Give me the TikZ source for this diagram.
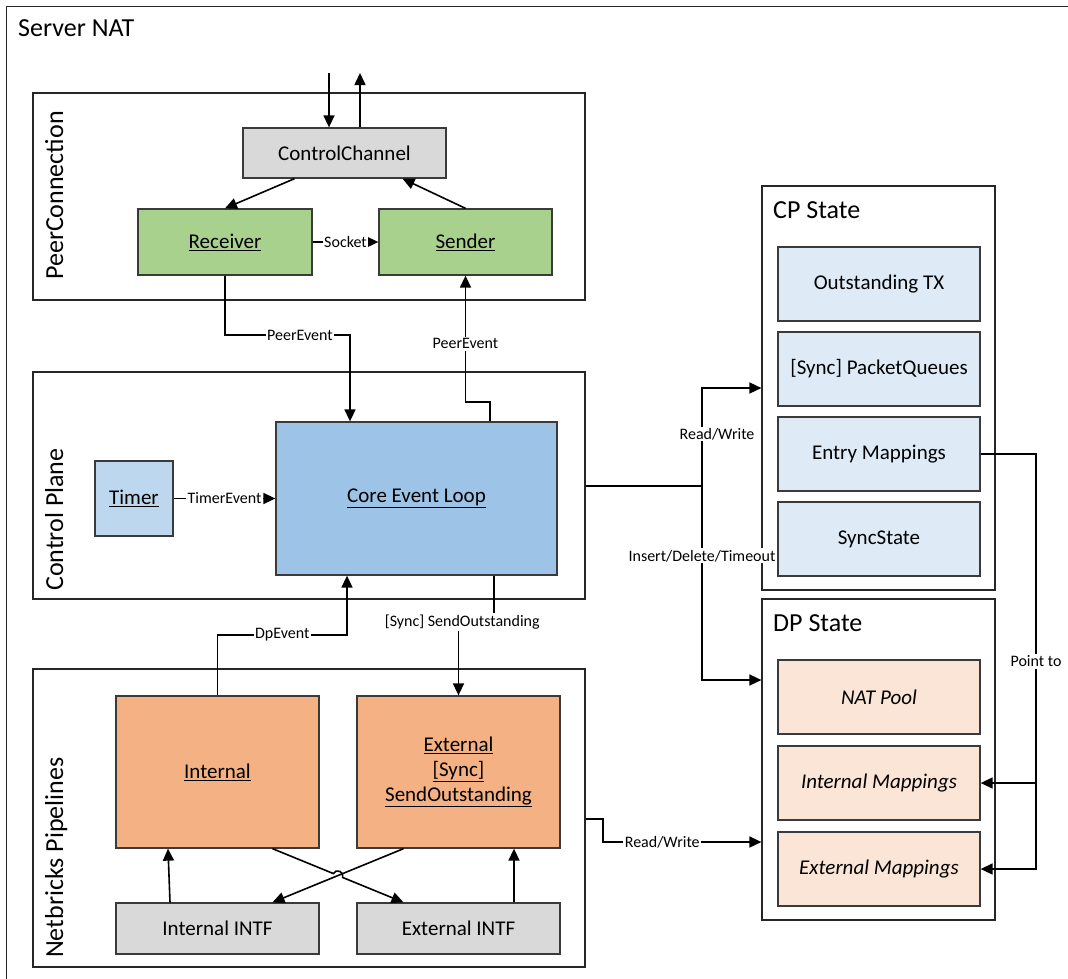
\documentclass[tikz,border=0pt]{standalone}
\usepackage{fontspec}
\setmainfont{Carlito}
\usetikzlibrary{arrows.meta}
\definecolor{graybox}{HTML}{D9D9D9}
\definecolor{greenbox}{HTML}{A9D18E}
\definecolor{timerbox}{HTML}{BDD7EE}
\definecolor{corebox}{HTML}{9DC3E6}
\definecolor{cpbox}{HTML}{DEEBF7}
\definecolor{orangebox}{HTML}{F4B183}
\definecolor{dpbox}{HTML}{FBE5D6}
\definecolor{edgecol}{HTML}{3A3A3A}
\tikzset{
  cont/.style={draw=black!85, line width=1.2pt, inner sep=0},
  box/.style={draw=edgecol, line width=1.3pt, inner sep=0, align=center, font=\fontsize{21}{25}\selectfont},
  ttl/.style={font=\fontsize{26}{30}\selectfont, inner sep=0},
  lbl/.style={fill=white, inner sep=1.5pt, font=\fontsize{16}{19}\selectfont},
  conn/.style={line width=1.6pt, draw=black},
  arr/.style={conn, -{Triangle[length=12pt,width=11pt]}}
}
\begin{document}
\begin{tikzpicture}[x=1pt,y=-1pt]
\useasboundingbox (0,0) rectangle (1068,978);
\clip (0,0) rectangle (1068,978);
% outer
\node[cont, minimum width=1080, minimum height=990, anchor=north west] (srv) at (6,6) {};
\node[ttl, anchor=base west] (srvt) at (18,36) {Server NAT};
% containers
\node[cont, minimum width=552, minimum height=207] (pcon) at (309,196.5) {};
\node[cont, minimum width=552, minimum height=227] (cplane) at (309,485.5) {};
\node[cont, minimum width=552, minimum height=298] (nbp) at (309,818) {};
\node[cont, minimum width=233, minimum height=404] (cpst) at (878.5,388) {};
\node[cont, minimum width=233, minimum height=321] (dpst) at (878.5,759.5) {};
\node[ttl, rotate=90, anchor=base west] (pcont) at (63,280) {PeerConnection};
\node[ttl, rotate=90, anchor=base west] (cplt) at (63,591) {Control Plane};
\node[ttl, rotate=90, anchor=base west] (nbpt) at (63,958) {Netbricks Pipelines};
\node[ttl, anchor=base west] (cpstt) at (773,218) {CP State};
\node[ttl, anchor=base west] (dpstt) at (773,631) {DP State};
% peer connection
\node[box, fill=graybox, minimum width=203, minimum height=50] (cc) at (344.5,153) {ControlChannel};
\node[box, fill=greenbox, minimum width=174, minimum height=66] (rec) at (225,242) {\underline{Receiver}};
\node[box, fill=greenbox, minimum width=173, minimum height=66] (snd) at (465.5,242) {\underline{Sender}};
% control plane
\node[box, fill=timerbox, minimum width=78, minimum height=75] (tmr) at (134,498.5) {\underline{Timer}};
\node[box, fill=corebox, minimum width=281, minimum height=153] (core) at (416.5,498.5) {\underline{Core Event Loop}};
% netbricks
\node[box, fill=orangebox, minimum width=203, minimum height=152] (intl) at (217.5,772) {\underline{Internal}};
\node[box, fill=orangebox, minimum width=203, minimum height=152] (ext) at (458.5,772) {\underline{External}\\\underline{[Sync]}\\\underline{SendOutstanding}};
\node[box, fill=graybox, minimum width=203, minimum height=51] (intintf) at (217.5,928.5) {Internal INTF};
\node[box, fill=graybox, minimum width=203, minimum height=51] (extintf) at (458.5,928.5) {External INTF};
% CP state
\node[box, fill=cpbox, minimum width=202, minimum height=74] (otx) at (879,284) {Outstanding TX};
\node[box, fill=cpbox, minimum width=202, minimum height=74] (pq) at (879,369) {[Sync] PacketQueues};
\node[box, fill=cpbox, minimum width=202, minimum height=74] (entry) at (879,454) {Entry Mappings};
\node[box, fill=cpbox, minimum width=202, minimum height=74] (sync) at (879,539) {SyncState};
% DP state
\node[box, fill=dpbox, minimum width=202, minimum height=74] (pool) at (879,697) {\itshape NAT Pool};
\node[box, fill=dpbox, minimum width=202, minimum height=74] (im) at (879,783) {\itshape Internal Mappings};
\node[box, fill=dpbox, minimum width=202, minimum height=74] (em) at (879,869) {\itshape External Mappings};
% connectors: peer connection
\coordinate (inA) at (329,73);
\coordinate (outA) at (360,73);
\draw[arr] (inA) -- (inA |- cc.north);
\draw[arr] (outA |- cc.north) -- (outA);
\draw[arr] ([xshift=-50]cc.south) -- (rec.north);
\draw[arr] (snd.north) -- ([xshift=58]cc.south);
\draw[arr] (rec) -- node[lbl]{Socket} (snd);
\coordinate (pe1) at (350,335);
\draw[arr] (rec.south) |- node[lbl,pos=0.8]{PeerEvent} (pe1) -- (pe1 |- core.north);
\coordinate (pe2) at (490,402);
\draw[arr] (pe2 |- core.north) -- (pe2) -| node[lbl,pos=0.73]{PeerEvent} (snd.south);
% control plane
\draw[arr] (tmr) -- node[lbl]{TimerEvent} (core);
\coordinate (dp1) at (347,635);
\draw[arr] (intl.north) |- node[lbl,pos=0.75]{DpEvent} (dp1) -- (dp1 |- core.south);
\coordinate (so1) at (494,622);
\draw[arr] (so1 |- core.south) -- (so1) -| node[lbl,pos=0.25,xshift=-14]{[Sync] SendOutstanding} (ext.north);
% to states
\coordinate (j1) at (702,486);
\draw[conn] (cplane.east |- j1) -- (j1);
\draw[arr] (j1) |- node[lbl,pos=0.265,xshift=15]{Read/Write} (cpst.west |- 0,388);
\draw[arr] (j1) |- node[lbl,pos=0.18]{Insert/Delete/Timeout} (dpst.west |- 0,680);
\coordinate (pt) at (1036,454);
\draw[arr] (entry.east) -| node[lbl,pos=0.75]{Point to} (pt |- em.east) -- (em.east);
\draw[arr] (pt |- im.east) -- (im.east);
\coordinate (rw1) at (603,819);
\draw[arr] (nbp.east |- rw1) -- (rw1) |- node[lbl,pos=0.687]{Read/Write} (dpst.west |- 0,842);
% netbricks
\draw[arr] ([xshift=-47.5]intintf.north) -- ([xshift=-49.5]intl.south);
\draw[arr] ([xshift=55.5]extintf.north) -- ([xshift=55.5]ext.south);
\draw[arr] ([xshift=-55]ext.south) -- ([xshift=55]intintf.north);
\coordinate (hopA) at (333.39,873.56);
\coordinate (hopB) at (342.61,877.44);
\draw[arr] ([xshift=55]intl.south) -- (hopA) .. controls (335.71,868.03) and (344.93,871.91) .. (hopB) -- ([xshift=-55]extintf.north);
\end{tikzpicture}
\end{document}
